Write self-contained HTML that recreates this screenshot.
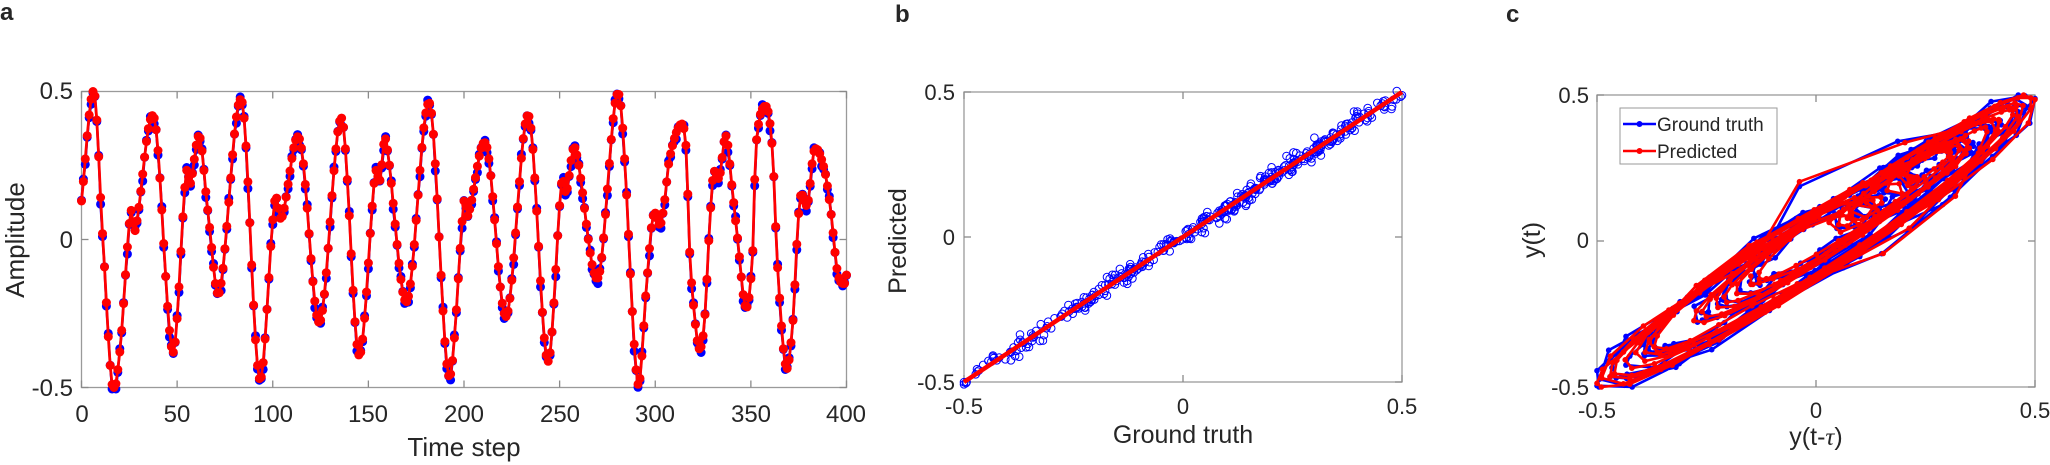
<!DOCTYPE html>
<html><head><meta charset="utf-8"><style>
html,body{margin:0;padding:0;background:#fff;width:2050px;height:465px;overflow:hidden}
svg{display:block}
text{font-family:"Liberation Sans",Arial,sans-serif;fill:#262626}
</style></head><body>
<svg id="s" width="2050" height="465" xmlns="http://www.w3.org/2000/svg">
<rect width="2050" height="465" fill="#fff"/>
<g id="plots"></g>
<text x="0" y="20" font-size="24" font-weight="bold" fill="#000">a</text>
<text x="895" y="22" font-size="24" font-weight="bold" fill="#000">b</text>
<text x="1506" y="22" font-size="24" font-weight="bold" fill="#000">c</text>
<g font-size="24">
<text x="73" y="99" text-anchor="end">0.5</text>
<text x="73" y="248" text-anchor="end">0</text>
<text x="73" y="396" text-anchor="end">-0.5</text>
<text x="82" y="422" text-anchor="middle">0</text>
<text x="177" y="422" text-anchor="middle">50</text>
<text x="273" y="422" text-anchor="middle">100</text>
<text x="368" y="422" text-anchor="middle">150</text>
<text x="464" y="422" text-anchor="middle">200</text>
<text x="560" y="422" text-anchor="middle">250</text>
<text x="655" y="422" text-anchor="middle">300</text>
<text x="751" y="422" text-anchor="middle">350</text>
<text x="846" y="422" text-anchor="middle">400</text>
</g>
<text x="464" y="456" font-size="26" text-anchor="middle">Time step</text>
<text transform="translate(24,240) rotate(-90)" font-size="26" text-anchor="middle">Amplitude</text>
<g font-size="22">
<text x="955" y="100" text-anchor="end">0.5</text>
<text x="955" y="245" text-anchor="end">0</text>
<text x="955" y="390" text-anchor="end">-0.5</text>
<text x="964" y="414" text-anchor="middle">-0.5</text>
<text x="1183" y="414" text-anchor="middle">0</text>
<text x="1402" y="414" text-anchor="middle">0.5</text>
</g>
<text x="1183" y="443" font-size="25" text-anchor="middle">Ground truth</text>
<text transform="translate(906,241) rotate(-90)" font-size="25" text-anchor="middle">Predicted</text>
<g font-size="22">
<text x="1589" y="103" text-anchor="end">0.5</text>
<text x="1589" y="248" text-anchor="end">0</text>
<text x="1589" y="395" text-anchor="end">-0.5</text>
<text x="1597" y="418" text-anchor="middle">-0.5</text>
<text x="1816" y="418" text-anchor="middle">0</text>
<text x="2035" y="418" text-anchor="middle">0.5</text>
</g>
<text x="1816" y="445" font-size="25" text-anchor="middle">y(t-<tspan font-family="Liberation Serif" font-style="italic">τ</tspan>)</text>
<text transform="translate(1540,240) rotate(-90)" font-size="25" text-anchor="middle">y(t)</text>
</svg>
<script>
var K=[[0,0.13],[6.5,0.5],[11,0.02],[16,-0.49],[20,-0.38],[25.6,0.09],[28,0.03],[38,0.41],[47.7,-0.38],[54.6,0.22],[57,0.19],[61.6,0.35],[66,0.1],[72,-0.18],[83.7,0.47],[93,-0.47],[101,0.13],[104.6,0.07],[114,0.34],[124.4,-0.28],[136,0.41],[145,-0.39],[153.5,0.22],[156,0.2],[159,0.34],[170,-0.21],[182,0.46],[192,-0.46],[200,0.13],[202,0.08],[211.6,0.32],[222,-0.26],[233.7,0.42],[243.7,-0.41],[251,0.19],[253.5,0.16],[258,0.31],[270,-0.13],[281,0.49],[290.7,-0.48],[295.5,-0.15],[298,0.04],[299.7,0.09],[302.6,0.05],[304.9,0.13],[307.5,0.275],[313.6,0.39],[316.2,0.3],[317.9,-0.03],[320.5,-0.255],[323.1,-0.37],[325.7,-0.28],[328.3,0.03],[330.4,0.22],[333.5,0.21],[337,0.35],[340.4,0.16],[343,0.005],[347.4,-0.23],[350.9,-0.05],[352.6,0.31],[357.8,0.45],[361.3,0.3],[363.9,-0.085],[368.3,-0.43],[371.8,-0.29],[374.4,0.03],[376.1,0.15],[379.6,0.12],[383.1,0.3],[388.3,0.24],[391.8,0.095],[395.3,-0.11],[398.8,-0.15],[400,-0.12]];
var n=K.length,m=[];
for(var i=0;i<n;i++){var a=K[Math.max(0,i-1)],b=K[Math.min(n-1,i+1)];m.push((b[1]-a[1])/(b[0]-a[0]));}
function f(t){for(var i=0;i<n-1;i++){if(t<=K[i+1][0]){var h=K[i+1][0]-K[i][0],s=(t-K[i][0])/h,s2=s*s,s3=s2*s;
return (2*s3-3*s2+1)*K[i][1]+(s3-2*s2+s)*h*m[i]+(-2*s3+3*s2)*K[i+1][1]+(s3-s2)*h*m[i+1];}}return K[n-1][1];}
var R=[],B=[];
for(var t=0;t<=400;t++){var v=Math.max(-0.5,Math.min(0.5,f(t)));R.push(v);B.push(Math.max(-0.5,Math.min(0.5,v+0.012*Math.sin(t*2.3)+0.008*Math.cos(t*0.9))));}
var o="";
function ln(x1,y1,x2,y2,c,w){o+='<line x1="'+x1+'" y1="'+y1+'" x2="'+x2+'" y2="'+y2+'" stroke="'+c+'" stroke-width="'+(w||1)+'"/>';}
function box(L,T,Rr,Bt,xt,yt){
o+='<rect x="'+L+'" y="'+T+'" width="'+(Rr-L)+'" height="'+(Bt-T)+'" fill="none" stroke="#9a9a9a" stroke-width="1.3"/>';
xt.forEach(function(x){ln(x,Bt,x,Bt-7,'#8a8a8a',1.3);ln(x,T,x,T+7,'#8a8a8a',1.3);});
yt.forEach(function(y){ln(L,y,L+7,y,'#8a8a8a',1.3);ln(Rr,y,Rr-7,y,'#8a8a8a',1.3);});}
var aX=function(t){return 81.5+t*1.9125},aY=function(v){return 239.5-v*296};
box(81.5,91.5,846.5,387.5,[0,50,100,150,200,250,300,350,400].map(aX),[91.5,239.5,387.5]);
function series(arr,col,X,Y,r,w){var p="";arr.forEach(function(v,i){p+=(i?"L":"M")+X(i).toFixed(1)+" "+Y(v).toFixed(1);});
o+='<path d="'+p+'" fill="none" stroke="'+col+'" stroke-width="'+w+'" stroke-linejoin="round"/>';
arr.forEach(function(v,i){o+='<circle cx="'+X(i).toFixed(1)+'" cy="'+Y(v).toFixed(1)+'" r="'+r+'" fill="'+col+'"/>';});}
series(B,"#0000ff",aX,function(v){return aY(v)+1.5},4.5,2.5);
series(R,"#ff0000",aX,aY,4.5,2.8);
var bX=function(v){return 1183+v*438},bY=function(v){return 237-v*290};
box(964,92,1402,382,[964,1183,1402],[92,237,382]);
for(var t=0;t<=400;t++){var g=B[t],p=R[t]+0.014*Math.sin(t*7.31)+0.01*Math.cos(t*3.7);
o+='<circle cx="'+bX(g).toFixed(1)+'" cy="'+bY(p).toFixed(1)+'" r="3.8" fill="none" stroke="#0000ff" stroke-width="1"/>';}
ln(bX(-0.5),bY(-0.5),bX(0.5),bY(0.5),'#ff0000',4.5);
var cX=function(v){return 1816+v*438},cY=function(v){return 241-v*292};
box(1597,95,2035,387,[1597,1816,2035],[95,241,387]);
function phase(arr,col){var p="",c="";for(var t=1;t<arr.length;t++){var x=cX(arr[t-1]).toFixed(1),y=cY(arr[t]).toFixed(1);p+=(t>1?"L":"M")+x+" "+y;c+='<circle cx="'+x+'" cy="'+y+'" r="2.8" fill="'+col+'"/>';}
o+='<path d="'+p+'" fill="none" stroke="'+col+'" stroke-width="2.6" stroke-linejoin="round"/>'+c;}
phase(B,"#0000ff");phase(R,"#ff0000");
o+='<rect x="1620" y="108" width="157" height="56" fill="#fff" stroke="#9a9a9a" stroke-width="1"/>';
ln(1623,124,1656,124,'#0000ff',2.6);o+='<circle cx="1639.5" cy="124" r="3" fill="#0000ff"/>';
ln(1623,151,1656,151,'#ff0000',2.6);o+='<circle cx="1639.5" cy="151" r="3" fill="#ff0000"/>';
o+='<text x="1657" y="131" font-size="19">Ground truth</text><text x="1657" y="158" font-size="19">Predicted</text>';
document.getElementById("plots").innerHTML=o;
</script>
</body></html>
